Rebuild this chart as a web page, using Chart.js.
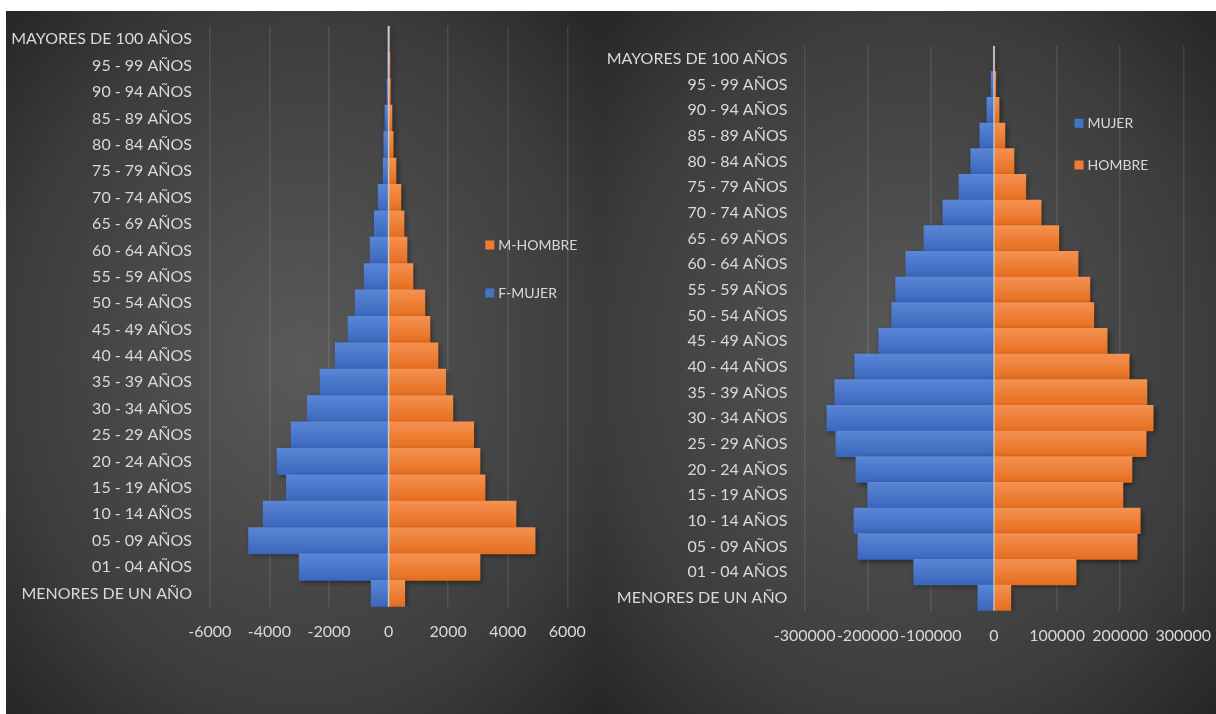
<!DOCTYPE html>
<html>
<head>
<meta charset="utf-8">
<script src="https://cdn.jsdelivr.net/npm/chart.js@4"></script>
<style>
  body { margin: 0; background: #fff; width: 1216px; height: 714px; overflow: hidden; }
  .panel { position: absolute; top: 11px; height: 703px; }
  #left { left: 6px; width: 594px; background: radial-gradient(ellipse farthest-corner at 50% 50%, #5a5a5a 0%, #3c3c3c 70%, #262626 100%); }
  #right { left: 600px; width: 616px; background: radial-gradient(ellipse farthest-corner at 50% 50%, #5a5a5a 0%, #3c3c3c 70%, #262626 100%); }
</style>
</head>
<body>
<div class="panel" id="left"><canvas id="chart-left" width="594" height="703"></canvas></div>
<div class="panel" id="right"><canvas id="chart-right" width="616" height="703"></canvas></div>
<script>
// age groups, top of the pyramid first
const ageGroups = [
  'MAYORES DE 100 AÑOS', '95 - 99 AÑOS', '90 - 94 AÑOS', '85 - 89 AÑOS', '80 - 84 AÑOS',
  '75 - 79 AÑOS', '70 - 74 AÑOS', '65 - 69 AÑOS', '60 - 64 AÑOS', '55 - 59 AÑOS',
  '50 - 54 AÑOS', '45 - 49 AÑOS', '40 - 44 AÑOS', '35 - 39 AÑOS', '30 - 34 AÑOS',
  '25 - 29 AÑOS', '20 - 24 AÑOS', '15 - 19 AÑOS', '10 - 14 AÑOS', '05 - 09 AÑOS',
  '01 - 04 AÑOS', 'MENORES DE UN AÑO'
];

// left pyramid
const leftMujer = [15, 30, 50, 120, 160, 180, 350, 480, 620, 820, 1120, 1360, 1790, 2300, 2730, 3270, 3740, 3430, 4210, 4700, 3000, 585];
const leftHombre = [30, 45, 60, 115, 155, 250, 415, 520, 620, 820, 1220, 1390, 1660, 1920, 2160, 2860, 3070, 3240, 4280, 4920, 3070, 545];
const leftTicks = { min: -6000, max: 6000, step: 2000 };

// right pyramid
const rightMujer = [800, 4500, 11200, 22400, 36800, 55400, 81000, 110900, 139600, 155800, 162000, 182600, 220600, 252300, 264800, 250500, 218700, 200000, 221800, 215600, 127100, 25500];
const rightHombre = [1200, 3000, 8100, 17400, 31800, 50500, 74800, 102800, 133300, 152000, 158300, 179400, 214300, 242400, 252300, 241100, 218700, 204400, 231800, 226800, 130200, 26800];
const rightTicks = { min: -300000, max: 300000, step: 100000 };

const BLUE = '#4472C4';
const ORANGE = '#ED7D31';
const TEXT = '#d9d9d9';
const FONT = 'Lato';

// vertical gradient on each bar, lighter at the top
function barFill(top, bottom) {
  return function (ctx) {
    const chart = ctx.chart;
    const y = chart.scales.y;
    if (!chart.chartArea || !y || ctx.dataIndex === undefined) return bottom;
    const c = y.getPixelForValue(ctx.dataIndex);
    const half = Math.abs(y.getPixelForValue(1) - y.getPixelForValue(0)) / 2;
    const g = chart.ctx.createLinearGradient(0, c - half, 0, c + half);
    g.addColorStop(0, top);
    g.addColorStop(1, bottom);
    return g;
  };
}

// shadow under bars + light zero line + legend drawn inside the plot
const pyramidDecor = {
  id: 'pyramidDecor',
  beforeDatasetsDraw(chart) {
    const ctx = chart.ctx;
    ctx.save();
    ctx.shadowColor = 'rgba(0,0,0,0.45)';
    ctx.shadowBlur = 5;
    ctx.shadowOffsetX = 2;
    ctx.shadowOffsetY = 2;
  },
  afterDatasetsDraw(chart, args, opts) {
    const ctx = chart.ctx;
    ctx.restore();
    const x0 = chart.scales.x.getPixelForValue(0);
    ctx.save();
    ctx.strokeStyle = 'rgba(235,240,250,0.75)';
    ctx.lineWidth = 1.5;
    ctx.beginPath();
    ctx.moveTo(x0, chart.chartArea.top);
    ctx.lineTo(x0, chart.chartArea.bottom);
    ctx.stroke();

    ctx.font = '14px ' + FONT;
    ctx.textBaseline = 'middle';
    ctx.textAlign = 'left';
    opts.items.forEach(function (item, i) {
      const ds = chart.data.datasets[item];
      const yc = opts.y[i];
      ctx.fillStyle = ds.legendColor;
      ctx.fillRect(opts.x, yc - 4.5, 9, 9);
      ctx.fillStyle = TEXT;
      ctx.fillText(ds.label, opts.x + 13, yc);
    });
    ctx.restore();
  }
};

function makePyramid(id, mujer, hombre, labels, ticks, layout) {
  const ctx = document.getElementById(id).getContext('2d');
  return new Chart(ctx, {
    type: 'bar',
    data: {
      labels: ageGroups,
      datasets: [
        {
          label: labels.hombre,
          data: hombre,
          legendColor: ORANGE,
          backgroundColor: barFill('#f59150', '#e56e1e'),
          borderWidth: 0
        },
        {
          label: labels.mujer,
          data: mujer.map(v => -v),
          legendColor: BLUE,
          backgroundColor: barFill('#5a86d6', '#3a67bd'),
          borderWidth: 0
        }
      ]
    },
    options: {
      indexAxis: 'y',
      responsive: false,
      animation: false,
      events: [],
      barPercentage: 1,
      categoryPercentage: 1,
      layout: { padding: { left: 0, right: layout.right, top: layout.top, bottom: 0 } },
      plugins: {
        legend: { display: false },
        tooltip: { enabled: false },
        pyramidDecor: layout.legend
      },
      scales: {
        x: {
          stacked: true,
          min: ticks.min,
          max: ticks.max,
          afterFit(scale) {
            scale.height = layout.xHeight;
            scale.paddingLeft = 0;
            scale.paddingRight = 0;
          },
          ticks: {
            stepSize: ticks.step,
            autoSkip: false,
            maxRotation: 0,
            minRotation: 0,
            padding: layout.xPad,
            color: TEXT,
            font: { family: FONT, size: 16 },
            callback: v => String(v)
          },
          grid: { color: 'rgba(255,255,255,0.1)', lineWidth: 1.5, drawTicks: false },
          border: { display: false }
        },
        y: {
          stacked: true,
          afterFit(scale) {
            scale.width = layout.yWidth;
            scale.paddingTop = 0;
            scale.paddingBottom = 0;
          },
          ticks: {
            autoSkip: false,
            padding: layout.yPad,
            color: TEXT,
            font: { family: FONT, size: 16 }
          },
          grid: { display: false, drawTicks: false },
          border: { display: false }
        }
      }
    },
    plugins: [pyramidDecor]
  });
}

makePyramid('chart-left', leftMujer, leftHombre,
  { mujer: 'F-MUJER', hombre: 'M-HOMBRE' }, leftTicks,
  { right: 32.7, top: 15, xHeight: 107.3, xPad: 16, yWidth: 203.8, yPad: 17.8,
    legend: { items: [0, 1], x: 479.3, y: [234, 282] } });

makePyramid('chart-right', rightMujer, rightHombre,
  { mujer: 'MUJER', hombre: 'HOMBRE' }, rightTicks,
  { right: 32.7, top: 35, xHeight: 103.3, xPad: 16, yWidth: 204.6, yPad: 17.2,
    legend: { items: [1, 0], x: 474.5, y: [112.3, 154] } });
</script>
</body>
</html>
